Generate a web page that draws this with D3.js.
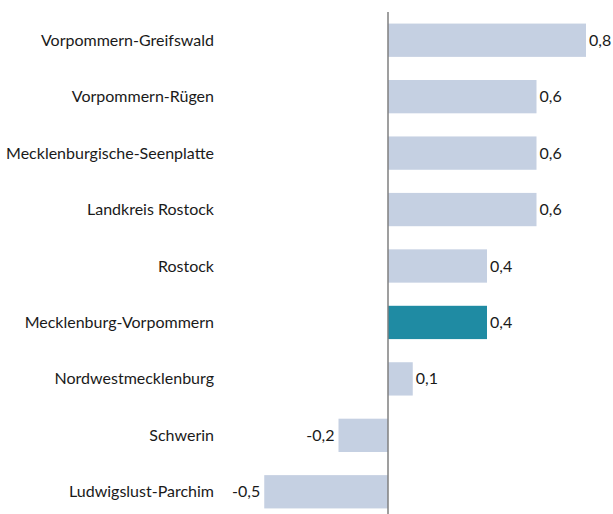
<!DOCTYPE html>
<html>
<head>
<meta charset="utf-8">
<script src="https://cdn.jsdelivr.net/npm/d3@7"></script>
<style>
  body { margin: 0; background: #fff; }
  text { font-family: Lato, "Open Sans", sans-serif; fill: #1a1a1a; }
</style>
</head>
<body>
<svg width="613" height="514"></svg>
<script>
  const regions = [
    'Vorpommern-Greifswald',
    'Vorpommern-Rügen',
    'Mecklenburgische-Seenplatte',
    'Landkreis Rostock',
    'Rostock',
    'Mecklenburg-Vorpommern',
    'Nordwestmecklenburg',
    'Schwerin',
    'Ludwigslust-Parchim'
  ];
  const values = [0.8, 0.6, 0.6, 0.6, 0.4, 0.4, 0.1, -0.2, -0.5];
  const highlight = ['Mecklenburg-Vorpommern'];

  const svg = d3.select('svg');

  const zeroX = 388;
  const unit = 247.5;

  const xScale = d3.scaleLinear()
    .domain([-0.5, 0.8])
    .range([zeroX - 0.5 * unit, zeroX + 0.8 * unit]);

  const yScale = d3.scaleBand()
    .domain(regions)
    .range([12, 520])
    .paddingInner(0.41)
    .paddingOuter(0.205);

  const data = regions.map((r, i) => ({ region: r, value: values[i] }));

  const fmt = v => d3.format('.1f')(v).replace('.', ',').replace('−', '-');

  svg.selectAll('.bar').data(data).enter()
    .append('rect')
      .attr('class', 'bar')
      .attr('x', d => xScale(Math.min(0, d.value)))
      .attr('y', d => yScale(d.region))
      .attr('width', d => Math.abs(xScale(d.value) - xScale(0)))
      .attr('height', yScale.bandwidth())
      .attr('fill', d => highlight.includes(d.region) ? '#1f8ba3' : '#c5d0e2');

  svg.append('line')
    .attr('x1', xScale(0)).attr('x2', xScale(0))
    .attr('y1', 12).attr('y2', 514)
    .attr('stroke', '#7f7f7f')
    .attr('stroke-width', 1.5);

  svg.selectAll('.cat').data(data).enter()
    .append('text')
      .attr('class', 'cat')
      .attr('x', 214)
      .attr('y', d => yScale(d.region) + yScale.bandwidth() / 2)
      .attr('dy', '0.35em')
      .attr('text-anchor', 'end')
      .attr('font-size', 16)
      .text(d => d.region);

  svg.selectAll('.val').data(data).enter()
    .append('text')
      .attr('class', 'val')
      .attr('x', d => d.value >= 0 ? xScale(d.value) + 3 : xScale(d.value) - 4)
      .attr('y', d => yScale(d.region) + yScale.bandwidth() / 2)
      .attr('dy', '0.35em')
      .attr('text-anchor', d => d.value >= 0 ? 'start' : 'end')
      .attr('font-size', 16)
      .text(d => fmt(d.value));
</script>
</body>
</html>
